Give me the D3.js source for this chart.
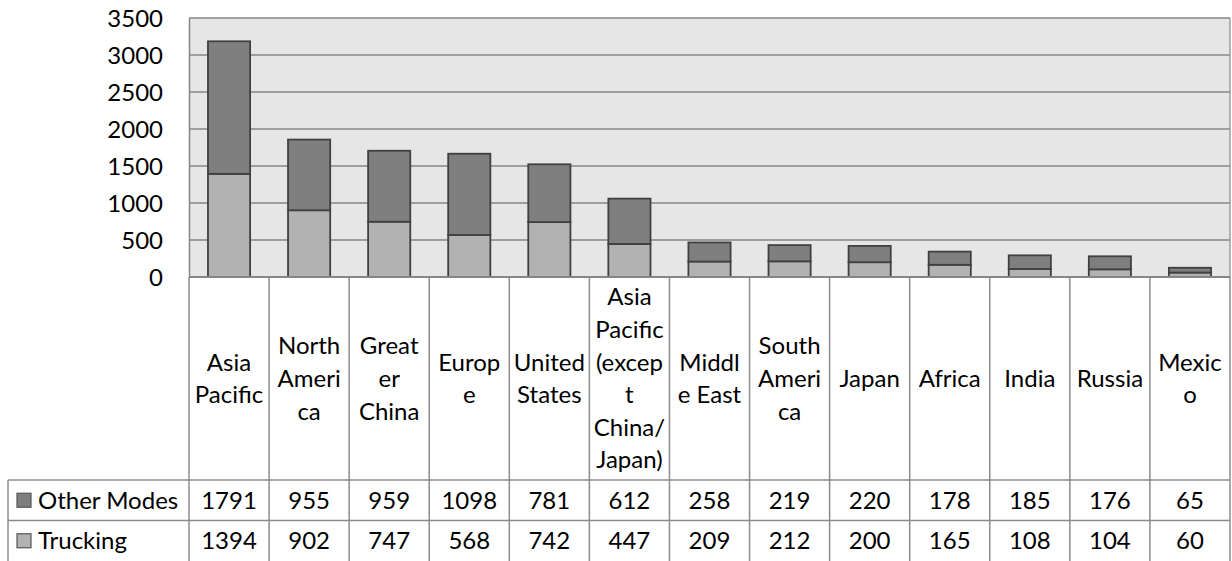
<!DOCTYPE html>
<html>
<head>
<meta charset="utf-8">
<script src="https://cdn.jsdelivr.net/npm/d3@7"></script>
<style>
  html, body { margin: 0; padding: 0; background: #ffffff; }
  svg { display: block; }
  text { font-family: Lato, "Open Sans", sans-serif; fill: #000; }
</style>
</head>
<body>
<svg id="chart" width="1232" height="561"></svg>
<script>
// Regions, in column order
const categories = ["Asia Pacific", "North America", "Greater China", "Europe", "United States",
  "Asia Pacific (except China/Japan)", "Middle East", "South America", "Japan", "Africa",
  "India", "Russia", "Mexico"];
// Header text as it wraps inside each narrow table column
const categoryLines = [
  ["Asia", "Pacific"], ["North", "Ameri", "ca"], ["Great", "er", "China"], ["Europ", "e"],
  ["United", "States"], ["Asia", "Pacific", "(excep", "t", "China/", "Japan)"],
  ["Middl", "e East"], ["South", "Ameri", "ca"], ["Japan"], ["Africa"], ["India"], ["Russia"],
  ["Mexic", "o"]];
const seriesNames = ["Other Modes", "Trucking"];
const otherModes = [1791, 955, 959, 1098, 781, 612, 258, 219, 220, 178, 185, 176, 65];
const trucking = [1394, 902, 747, 568, 742, 447, 209, 212, 200, 165, 108, 104, 60];
const yTicks = [0, 500, 1000, 1500, 2000, 2500, 3000, 3500];

const colors = { "Other Modes": "#7f7f7f", "Trucking": "#b2b2b2" };

const svg = d3.select("#chart");
const plot = { left: 189, right: 1230, top: 18, bottom: 277 };
const table = { left: 8, headerBottom: 480, rowH: 40.5 };

const rows = categories.map((c, i) => ({ cat: c, "Other Modes": otherModes[i], "Trucking": trucking[i] }));

const x = d3.scaleBand().domain(categories).range([plot.left, plot.right]).padding(0);
const y = d3.scaleLinear().domain([0, 3500]).range([plot.bottom, plot.top]);
const barW = x.bandwidth() / 1.9;

// plot background
svg.append("rect")
  .attr("x", plot.left).attr("y", plot.top)
  .attr("width", plot.right - plot.left).attr("height", plot.bottom - plot.top)
  .attr("fill", "#e6e6e6");

// horizontal gridlines
svg.append("g").selectAll("line").data(yTicks.filter(d => d > 0)).join("line")
  .attr("x1", plot.left).attr("x2", plot.right)
  .attr("y1", d => y(d)).attr("y2", d => y(d))
  .attr("stroke", "#868686").attr("stroke-width", 1.5);

// right edge of the plot area
svg.append("line").attr("x1", plot.right).attr("x2", plot.right)
  .attr("y1", plot.top).attr("y2", plot.bottom).attr("stroke", "#8c8c8c").attr("stroke-width", 1.2);

// y axis labels
const yAxis = d3.axisLeft(y).tickValues(yTicks).tickSize(0).tickPadding(26).tickFormat(d3.format("d"));
const gy = svg.append("g").attr("transform", `translate(${plot.left},0)`).call(yAxis);
gy.select(".domain").attr("stroke", "#868686").attr("stroke-width", 1.5);
gy.selectAll("text").attr("font-size", 24).attr("font-family", "Lato, sans-serif").attr("fill", "#000")
  .attr("dy", "0.35em");

// stacked bars: Trucking at the base, Other Modes above
const stack = d3.stack().keys(["Trucking", "Other Modes"]);
const layers = stack(rows);
svg.append("g").selectAll("g").data(layers).join("g")
  .attr("fill", d => colors[d.key])
  .selectAll("rect").data(d => d).join("rect")
  .attr("x", d => x(d.data.cat) + (x.bandwidth() - barW) / 2)
  .attr("y", d => y(d[1]))
  .attr("width", barW)
  .attr("height", d => y(d[0]) - y(d[1]))
  .attr("stroke", "#404040").attr("stroke-width", 1.8);

// ---- data table ----
const tableBottom = table.headerBottom + table.rowH * 2;
const grid = svg.append("g").attr("stroke", "#8c8c8c").attr("stroke-width", 1.5);
// column separators
const edges = categories.map(c => x(c)).concat([plot.right]);
grid.selectAll("line.col").data(edges).join("line").attr("class", "col")
  .attr("x1", d => d).attr("x2", d => d)
  .attr("y1", plot.bottom).attr("y2", tableBottom);
// row separators
[table.headerBottom, table.headerBottom + table.rowH].forEach(yy => {
  grid.append("line").attr("x1", table.left).attr("x2", plot.right)
    .attr("y1", yy).attr("y2", yy);
});
grid.append("line").attr("x1", table.left).attr("x2", table.left)
  .attr("y1", table.headerBottom).attr("y2", tableBottom);
// axis baseline
svg.append("line").attr("x1", plot.left).attr("x2", plot.right)
  .attr("y1", plot.bottom).attr("y2", plot.bottom)
  .attr("stroke", "#868686").attr("stroke-width", 1.8);

// category headers
const lineH = 32.6;
const headMid = (plot.bottom + table.headerBottom) / 2;
const heads = svg.append("g").selectAll("text").data(categories).join("text")
  .attr("text-anchor", "middle").attr("font-size", 24)
  .attr("x", d => x(d) + x.bandwidth() / 2);
heads.each(function(d, i) {
  const lines = categoryLines[i];
  const y0 = headMid - (lines.length - 1) * lineH / 2;
  d3.select(this).selectAll("tspan").data(lines).join("tspan")
    .attr("x", x(d) + x.bandwidth() / 2)
    .attr("y", (l, j) => y0 + j * lineH)
    .attr("dy", "0.35em")
    .text(l => l);
});

// value rows with legend keys
const series = [otherModes, trucking];
seriesNames.forEach((name, r) => {
  const cy = table.headerBottom + table.rowH * r + table.rowH / 2;
  svg.append("rect").attr("x", 17).attr("y", cy - 7).attr("width", 14).attr("height", 14)
    .attr("fill", colors[name]).attr("stroke", "#555").attr("stroke-width", 1.2);
  svg.append("text").attr("x", 38).attr("y", cy).attr("dy", "0.35em")
    .attr("font-size", 24).text(name);
  svg.append("g").selectAll("text").data(series[r]).join("text")
    .attr("text-anchor", "middle").attr("font-size", 24)
    .attr("x", (v, i) => x(categories[i]) + x.bandwidth() / 2)
    .attr("y", cy).attr("dy", "0.35em")
    .text(v => v);
});
</script>
</body>
</html>
